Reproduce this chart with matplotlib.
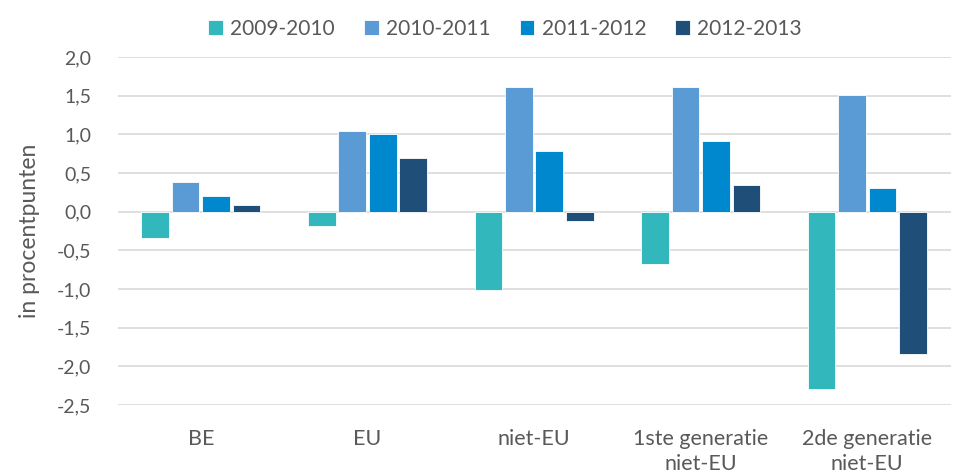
import numpy as np
import matplotlib.pyplot as plt
from matplotlib.ticker import FixedLocator, FuncFormatter

plt.rcParams['font.family'] = ['Lato', 'DejaVu Sans']

categories = ['BE', 'EU', 'niet-EU', '1ste generatie\nniet-EU', '2de generatie\nniet-EU']
series = ['2009-2010', '2010-2011', '2011-2012', '2012-2013']
v_0910 = [-0.34, -0.19, -1.01, -0.68, -2.29]
v_1011 = [0.38, 1.05, 1.61, 1.61, 1.51]
v_1112 = [0.20, 1.00, 0.79, 0.91, 0.31]
v_1213 = [0.09, 0.69, -0.12, 0.34, -1.84]
values = [v_0910, v_1011, v_1112, v_1213]
colors = ['#31B7BC', '#5B9BD5', '#0088CE', '#1F4E79']

text_col = '#595959'

fig = plt.figure(figsize=(9.64, 4.75), dpi=100)
ax = fig.add_axes([0.122, 0.147, 0.864, 0.733])

x = np.arange(len(categories))
width = 0.166
pitch = 0.183
for i, (name, vals) in enumerate(zip(series, values)):
    ax.bar(x + (i - 1.5) * pitch, vals, width, color=colors[i], label=name,
           edgecolor='white', linewidth=0.6, zorder=3)

ax.set_xlim(-0.5, len(categories) - 0.5)
ax.set_ylim(-2.5, 2.0)
ax.yaxis.set_major_locator(FixedLocator(np.arange(-2.5, 2.01, 0.5)))
ax.yaxis.set_major_formatter(FuncFormatter(lambda v, p: f'{v:.1f}'.replace('.', ',')))
ax.grid(axis='y', color='#D9D9D9', linewidth=1.2, zorder=0)
for s in ax.spines.values():
    s.set_visible(False)
ax.set_xticks(x)
ax.set_xticklabels(categories, linespacing=1.35)
ax.tick_params(axis='y', length=0, labelsize=14, colors=text_col, pad=19)
ax.tick_params(axis='x', length=0, labelsize=15.5, colors=text_col, pad=17)
ax.set_ylabel('in procentpunten', fontsize=16.5, color=text_col, labelpad=12)

leg = fig.legend(loc='upper center', bbox_to_anchor=(0.524, 1.0), ncol=4, frameon=False,
                 fontsize=15, handlelength=0.7, handleheight=0.7, handletextpad=0.35,
                 columnspacing=1.4)
for t in leg.get_texts():
    t.set_color(text_col)

fig.savefig('out.png', dpi=100)
